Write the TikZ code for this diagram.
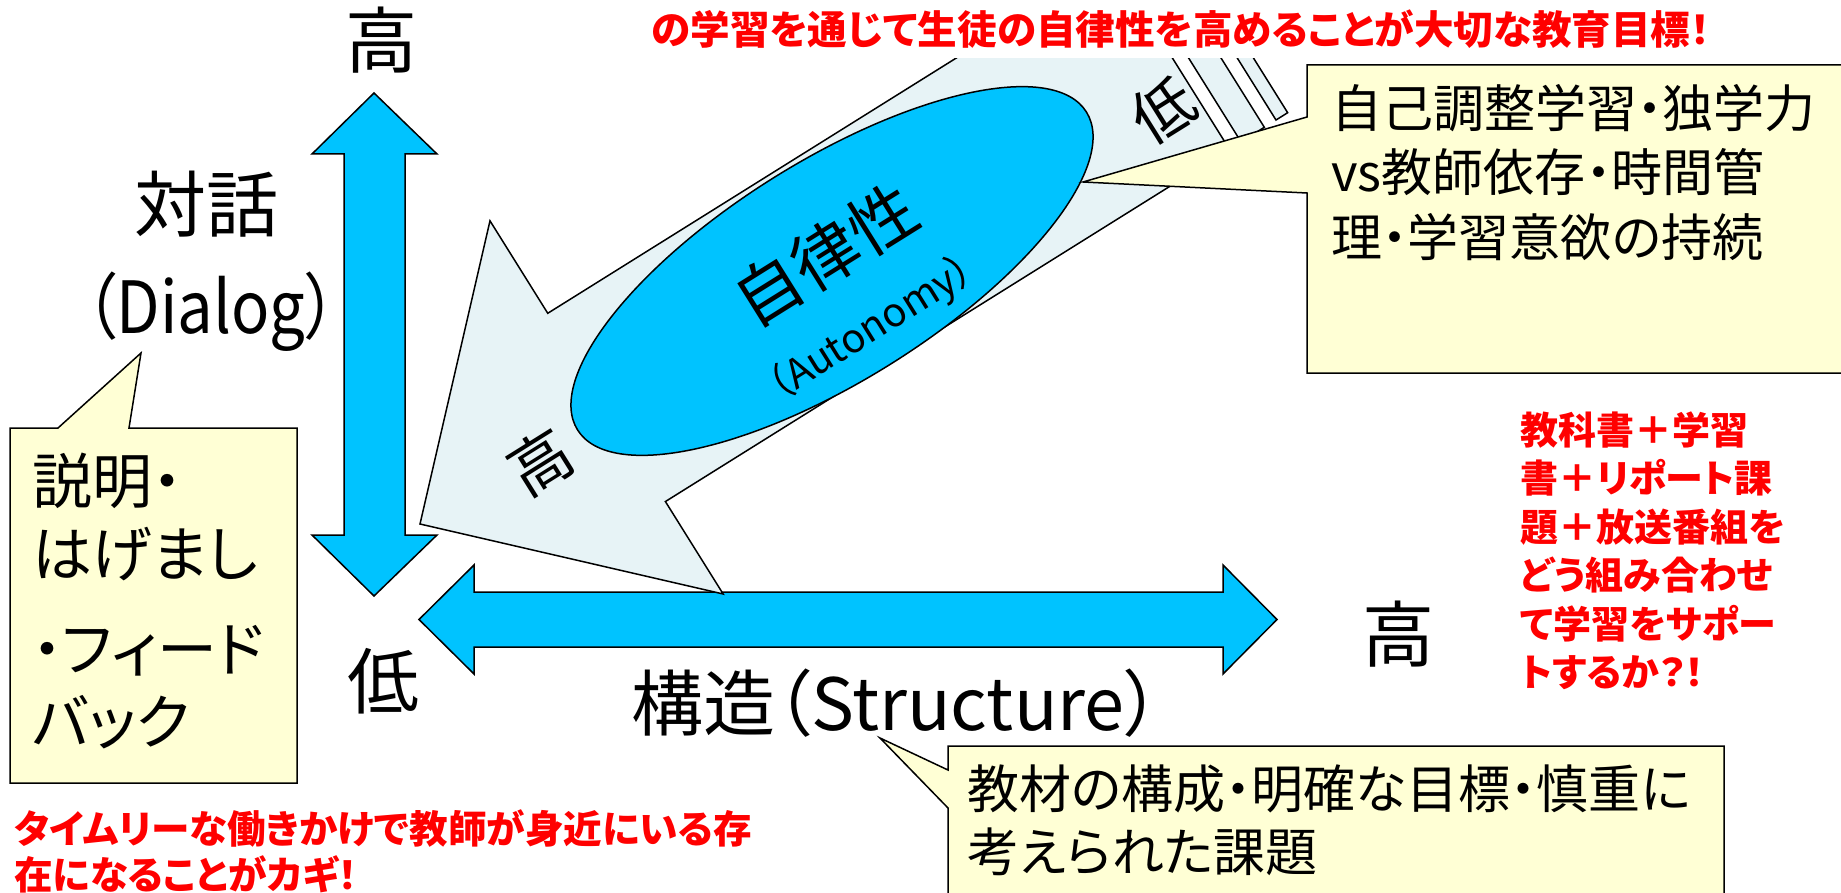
\documentclass[tikz,border=0pt]{standalone}
\usepackage{fontspec}
\usepackage{graphicx}
\setmainfont{Noto Sans CJK JP}[RawFeature=+palt]
\usetikzlibrary{shapes.geometric}
\definecolor{cyanA}{RGB}{0,195,255}
\definecolor{paleA}{RGB}{231,243,246}
\definecolor{yelA}{RGB}{255,255,213}
\definecolor{redA}{RGB}{255,0,0}
\begin{document}
\begin{tikzpicture}[x=0.5pt,y=-0.5pt,line join=miter,
  outl/.style={draw=black,line width=0.75pt},
  cyanshape/.style={outl,fill=cyanA},
  paleshape/.style={outl,fill=paleA},
  calloutshape/.style={outl,fill=yelA},
  bigtxt/.style={inner sep=0pt,font=\fontsize{36}{43}\selectfont},
  rottxt/.style={inner sep=0pt,rotate=32},
  boxtxt/.style={inner sep=0pt,anchor=west,align=left},
  redtxt/.style={inner sep=0pt,anchor=west,align=left,text=redA}]
\path[use as bounding box] (0,0) rectangle (1841,893);
\clip (0,0) rectangle (1841,893);
\fill[white] (0,0) rectangle (1841,893);

% vertical double arrow (Dialog axis)
\path[cyanshape] (374,93) -- (437,154) -- (405,154) -- (405,535) -- (437,535)
  -- (374,596) -- (312,535) -- (344,535) -- (344,154) -- (312,154) -- cycle;

% horizontal double arrow (Structure axis)
\path[cyanshape] (419,619.5) -- (474,565) -- (474,592) -- (1223,592) -- (1223,565)
  -- (1277,619.5) -- (1223,674) -- (1223,647) -- (474,647) -- (474,674) -- cycle;

% striped autonomy arrow
\begin{scope}[shift={(420,524)},rotate=32]
  \path[paleshape] (0,0) -- (220,-220) -- (220,-111) -- (885,-111) -- (885,111)
    -- (220,111) -- (220,220) -- cycle;
  \path[paleshape] (898.75,-111) rectangle (926.25,111);
  \path[paleshape] (940,-111) rectangle (953.75,111);
\end{scope}

% ellipse
\node[ellipse,cyanshape,rotate=32,minimum width=300pt,minimum height=110pt,inner sep=0pt]
  (ell) at (832,271) {};
\node[rottxt,align=center,font=\fontsize{20}{37}\selectfont] (auto) at (846,288)
  {{\fontsize{33.5}{40}\selectfont 自律性}\\（Autonomy）};
\node[rottxt,font=\fontsize{31}{37}\selectfont] (ahigh) at (540,462) {高};
\node[rottxt,font=\fontsize{31}{37}\selectfont] (alow) at (1163,110) {低};

% top red text on white box
\node[fill=white,inner sep=0pt,minimum width=560pt,minimum height=29pt,text=redA,
  font=\bfseries\fontsize{19.8}{23}\selectfont] (goal) at (1181,29)
  {の学習を通じて生徒の自律性を高めることが大切な教育目標！};

% axis labels
\node[bigtxt] (vhigh) at (381,40) {高};
\node[bigtxt] (dlg) at (206,204) {対話};
\node[bigtxt] (dlgen) at (211,312) {\scalebox{0.88}[1]{（Dialog）}};
\node[bigtxt] (vlow) at (383,681) {低};
\node[bigtxt] (hhigh) at (1398,634) {高};
\node[bigtxt] (str) at (896,703) {構造（Structure）};

% left callout
\path[calloutshape] (10,428) -- (58,428) -- (141,353) -- (129,428) -- (297,428)
  -- (297,783) -- (10,783) -- cycle;
\node[boxtxt,font=\fontsize{30}{36.5}\selectfont] (ltxt) at (32,600.5)
  {説明・\\はげまし\\[11pt]・フィード\\バック};

% right callout
\path[calloutshape] (1307,65) -- (1860,65) -- (1860,373) -- (1307,373) -- (1307,193)
  -- (1083,182) -- (1307,117) -- cycle;
\node[boxtxt,font=\fontsize{25.5}{32.25}\selectfont] (rtxt) at (1331,172.5)
  {自己調整学習・独学力\\vs教師依存・時間管\\理・学習意欲の持続};

% bottom callout
\path[calloutshape] (948,746) -- (1724,746) -- (1724,900) -- (948,900) -- (948,808)
  -- (880,738) -- (948,770) -- cycle;
\node[boxtxt,font=\fontsize{26}{31.5}\selectfont] (btxt) at (967,820.5)
  {教材の構成・明確な目標・慎重に\\考えられた課題};

% red notes
\node[redtxt,font=\bfseries\fontsize{19}{24.25}\selectfont] (rnote) at (1520,551)
  {教科書＋学習\\書＋リポート課\\題＋放送番組を\\どう組み合わせ\\て学習をサポー\\トするか？！};
\node[redtxt,font=\bfseries\fontsize{19.3}{23}\selectfont] (lnote) at (14,851)
  {タイムリーな働きかけで教師が身近にいる存\\在になることがカギ！};
\end{tikzpicture}
\end{document}
